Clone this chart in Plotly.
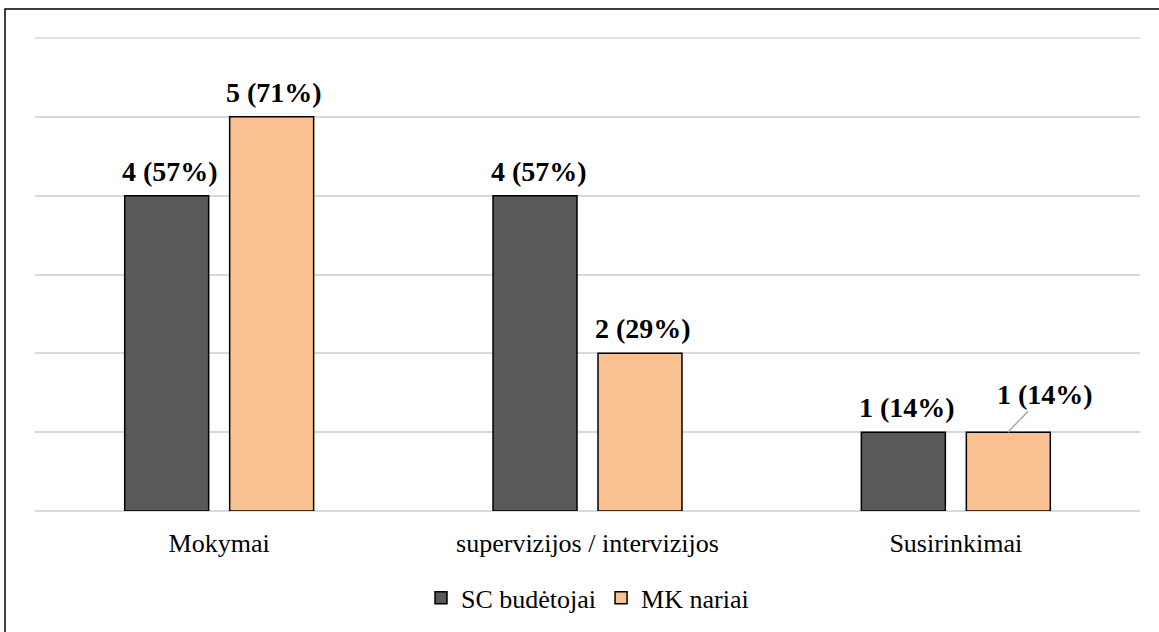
import plotly.graph_objects as go

categories = ["Mokymai", "supervizijos / intervizijos", "Susirinkimai"]
sc_values = [4, 4, 1]
mk_values = [5, 2, 1]
sc_labels = ["4 (57%)", "4 (57%)", "1 (14%)"]
mk_labels = ["5 (71%)", "2 (29%)", "1 (14%)"]
series_names = ["SC budėtojai", "MK nariai"]
y_max = 6

FONT = "Liberation Serif, Times New Roman, serif"
W, H = 1159, 632
L, R, T, B = 35, 19, 38, 120
LABEL_SIZE = 28
TEXT_SIZE = 26
BAR_OFFSET = 52  # px offset of each bar from the category centre

fig = go.Figure()
fig.add_trace(go.Bar(
    x=categories, y=sc_values, name=series_names[0],
    marker=dict(color="#595959", line=dict(color="black", width=1.5)),
))
fig.add_trace(go.Bar(
    x=categories, y=mk_values, name=series_names[1],
    marker=dict(color="#F9C191", line=dict(color="black", width=1.5)),
))

label_font = dict(family=FONT, size=LABEL_SIZE, color="black")
for cat, v, t in zip(categories, sc_values, sc_labels):
    fig.add_annotation(x=cat, y=v, xref="x", yref="y", xshift=-BAR_OFFSET + 3, yshift=7,
                       yanchor="bottom", text="<b>%s</b>" % t, showarrow=False,
                       font=label_font)
for i, (cat, v, t) in enumerate(zip(categories, mk_values, mk_labels)):
    if i < len(categories) - 1:
        fig.add_annotation(x=cat, y=v, xref="x", yref="y", xshift=BAR_OFFSET + 3, yshift=7,
                           yanchor="bottom", text="<b>%s</b>" % t, showarrow=False,
                           font=label_font)
    else:
        fig.add_annotation(x=cat, y=v, xref="x", yref="y", xshift=BAR_OFFSET,
                           text="<b>%s</b>" % t, showarrow=True, arrowhead=0,
                           arrowcolor="#a6a6a6", arrowwidth=1.5, ax=37, ay=-38,
                           font=label_font)

# top gridline (at the axis edge)
fig.add_shape(type="line", xref="paper", yref="paper", x0=0, x1=1, y0=1, y1=1,
              line=dict(color="#d9d9d9", width=1.5), layer="below")

pw = W - L - R
ph = H - T - B
fig.add_shape(type="rect", xref="paper", yref="paper",
              x0=(5 - L) / pw, x1=(1175 - L) / pw,
              y0=(H - B - 9) / ph, y1=(H - B - 645) / ph,
              line=dict(color="black", width=1.5), layer="above")

fig.update_layout(
    width=W, height=H,
    margin=dict(l=L, r=R, t=T, b=B),
    paper_bgcolor="white", plot_bgcolor="white",
    barmode="group", bargap=0.43, bargroupgap=0.2,
    font=dict(family=FONT, color="black"),
    showlegend=True,
    legend=dict(orientation="h", x=0.5, xanchor="center", y=-0.181, yanchor="middle",
                font=dict(family=FONT, size=TEXT_SIZE, color="black"),
                itemwidth=30, traceorder="normal"),
    xaxis=dict(showgrid=False, showline=False, ticks="",
               tickfont=dict(family=FONT, size=TEXT_SIZE, color="black"),
               ticklabelstandoff=14),
    yaxis=dict(range=[0, y_max], dtick=1, showticklabels=False,
               showgrid=True, gridcolor="#d9d9d9", gridwidth=1.5, zeroline=True,
               zerolinecolor="#d9d9d9", zerolinewidth=2, showline=False, ticks=""),
)

fig.write_html("out.html")
